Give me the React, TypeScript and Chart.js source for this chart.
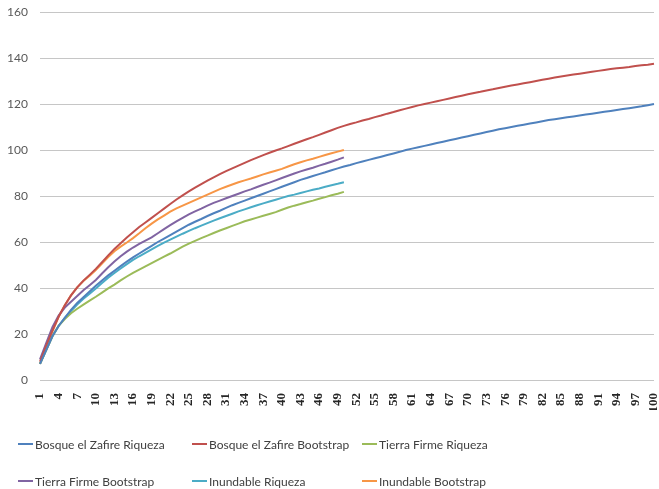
import React, { useEffect, useRef } from "react";
import { Chart, registerables } from "chart.js";

Chart.register(...registerables);

const categories: string[] = Array.from({ length: 100 }, (_, i) => String(i + 1));

const bosqueRiqueza = [
  7, 13, 19, 23.5, 27, 30.5, 33.5, 36, 38.5, 41, 43.3, 45.5, 47.5, 49.5, 51.5, 53.3, 55, 56.7, 58.3, 60,
  61.5, 63, 64.5, 66, 67.5, 68.8, 70, 71.3, 72.5, 73.6, 74.8, 76, 77, 78, 79, 80, 81, 82, 83, 84,
  85, 86, 87, 87.8, 88.7, 89.5, 90.3, 91.2, 92, 92.8, 93.5, 94.3, 95, 95.7, 96.4, 97.1, 97.8, 98.5, 99.2, 100,
  100.6, 101.2, 101.8, 102.4, 103, 103.6, 104.2, 104.8, 105.4, 106, 106.6, 107.2, 107.8, 108.4, 109, 109.5, 110, 110.5, 111, 111.5,
  112, 112.5, 113, 113.4, 113.8, 114.2, 114.6, 115, 115.4, 115.8, 116.2, 116.6, 117, 117.4, 117.8, 118.2, 118.6, 119, 119.5, 120,
];

const bosqueBootstrap = [
  8, 15, 21.5, 27.5, 32.5, 36.8, 40.3, 43.2, 45.7, 48.3, 51.2, 54.2, 57, 59.5, 62, 64.2, 66.5, 68.5, 70.5, 72.5,
  74.5, 76.5, 78.5, 80.3, 82, 83.6, 85.2, 86.7, 88.1, 89.5, 90.8, 92, 93.2, 94.4, 95.6, 96.7, 97.8, 98.8, 99.8, 100.7,
  101.7, 102.7, 103.7, 104.7, 105.6, 106.6, 107.6, 108.6, 109.6, 110.5, 111.3, 112, 112.8, 113.5, 114.3, 115, 115.8, 116.5, 117.3, 118,
  118.7, 119.4, 120, 120.6, 121.2, 121.8, 122.4, 123, 123.6, 124.2, 124.8, 125.3, 125.9, 126.4, 127, 127.5, 128, 128.5, 129, 129.5,
  130, 130.5, 131, 131.5, 132, 132.4, 132.8, 133.2, 133.6, 134, 134.4, 134.8, 135.2, 135.5, 135.8, 136.1, 136.5, 136.8, 137.1, 137.5,
];

const tierraRiqueza = [
  7, 13, 19, 23.5, 26.5, 29, 31, 32.8, 34.5, 36.2, 38, 39.8, 41.5, 43.3, 45, 46.6, 48, 49.4, 50.8, 52.2,
  53.6, 55, 56.5, 58, 59.3, 60.5, 61.7, 62.8, 63.9, 65, 66, 67, 68, 69, 69.8, 70.6, 71.4, 72.2, 73, 74,
  75, 75.8, 76.5, 77.3, 78, 78.8, 79.5, 80.3, 81, 81.8,
];

const tierraBootstrap = [
  9, 16, 23, 28, 31.5, 34, 36.5, 39, 41.2, 43.5, 46.3, 49, 51.5, 53.8, 55.8, 57.6, 59.2, 60.6, 62, 63.8,
  65.6, 67.3, 69, 70.5, 72, 73.3, 74.5, 75.8, 77, 78, 79, 80, 81, 82, 82.9, 83.9, 84.9, 85.8, 86.8, 87.8,
  88.8, 89.8, 90.7, 91.5, 92.3, 93.2, 94, 94.9, 95.8, 96.8,
];

const inundableRiqueza = [
  7, 13, 19, 23.5, 27, 30, 32.8, 35.3, 37.5, 39.8, 42.2, 44.5, 46.5, 48.5, 50.4, 52.2, 53.8, 55.3, 56.8, 58.3,
  59.7, 61, 62.3, 63.6, 64.8, 66, 67.1, 68.2, 69.3, 70.3, 71.3, 72.3, 73.3, 74.2, 75.1, 76, 76.8, 77.6, 78.4, 79.2,
  80, 80.6, 81.3, 82, 82.7, 83.3, 84, 84.7, 85.3, 86,
];

const inundableBootstrap = [
  7, 14, 21, 27.5, 32.5, 36.8, 40.3, 43, 45.3, 47.8, 50.6, 53.5, 56, 58, 59.8, 61.7, 63.8, 66, 68, 69.8,
  71.5, 73.2, 74.6, 75.8, 77, 78.2, 79.4, 80.6, 81.8, 83, 84, 85, 86, 86.8, 87.6, 88.5, 89.4, 90.2, 91, 91.8,
  92.8, 93.8, 94.7, 95.5, 96.2, 97, 97.8, 98.6, 99.3, 100,
];

const seriesNames = [
  "Bosque el Zafire Riqueza",
  "Bosque el Zafire Bootstrap",
  "Tierra Firme Riqueza",
  "Tierra Firme Bootstrap",
  "Inundable Riqueza",
  "Inundable Bootstrap",
];
const seriesData = [bosqueRiqueza, bosqueBootstrap, tierraRiqueza, tierraBootstrap, inundableRiqueza, inundableBootstrap];
const seriesColors = ["#4F81BD", "#C0504D", "#9BBB59", "#8064A2", "#4BACC6", "#F79646"];

const legendPos = [
  { x: 18, y: 444 },
  { x: 192, y: 444 },
  { x: 362, y: 444 },
  { x: 18, y: 481 },
  { x: 192, y: 481 },
  { x: 362, y: 481 },
];

export default function App() {
  const canvasRef = useRef<HTMLCanvasElement | null>(null);

  useEffect(() => {
    document.body.style.margin = "0";
    const canvas = canvasRef.current;
    if (!canvas) return;
    const chart = new Chart(canvas, {
      type: "line",
      data: {
        labels: categories,
        datasets: seriesNames.map((name, i) => ({
          label: name,
          data: seriesData[i],
          borderColor: seriesColors[i],
          backgroundColor: seriesColors[i],
          borderWidth: 2,
          pointRadius: 0,
          pointHoverRadius: 0,
          tension: 0,
          fill: false,
        })),
      },
      options: {
        animation: false,
        responsive: false,
        maintainAspectRatio: false,
        layout: { padding: { left: 0, right: 5, top: 12, bottom: 79 } },
        plugins: {
          legend: { display: false },
          tooltip: { enabled: false },
        },
        scales: {
          x: {
            offset: false,
            grid: { display: false },
            border: { display: false },
            ticks: {
              autoSkip: false,
              maxRotation: 90,
              minRotation: 90,
              padding: 5,
              color: "#262626",
              font: { family: "Liberation Serif", size: 13, weight: "bold" },
              callback: function (_v: any, index: number) {
                return index % 3 === 0 ? categories[index] : "";
              },
            },
            afterFit: (scale: any) => {
              scale.height = 30;
              scale.paddingLeft = 0;
              scale.paddingRight = 0;
            },
          },
          y: {
            min: 0,
            max: 160,
            border: { display: false },
            grid: { color: "#c6c6c6", lineWidth: 1, drawTicks: false },
            ticks: {
              stepSize: 20,
              padding: 12,
              color: "#595959",
              font: { family: "Lato", size: 12 },
            },
            afterFit: (scale: any) => {
              scale.width = 40;
              scale.paddingTop = 0;
              scale.paddingBottom = 0;
            },
          },
        },
      },
    });
    return () => chart.destroy();
  }, []);

  return (
    <div style={{ position: "relative", width: 659, height: 489, background: "#fff" }}>
      <canvas ref={canvasRef} width={659} height={489} style={{ display: "block" }} />
      {seriesNames.map((name, i) => (
        <div
          key={name}
          style={{
            position: "absolute",
            left: legendPos[i].x,
            top: legendPos[i].y - 10,
            height: 20,
            display: "flex",
            alignItems: "center",
            whiteSpace: "nowrap",
            fontFamily: "Lato",
            fontSize: 12,
            color: "#404040",
          }}
        >
          <span style={{ display: "inline-block", width: 15, height: 2, background: seriesColors[i], marginRight: 2 }} />
          <span>{name}</span>
        </div>
      ))}
    </div>
  );
}
